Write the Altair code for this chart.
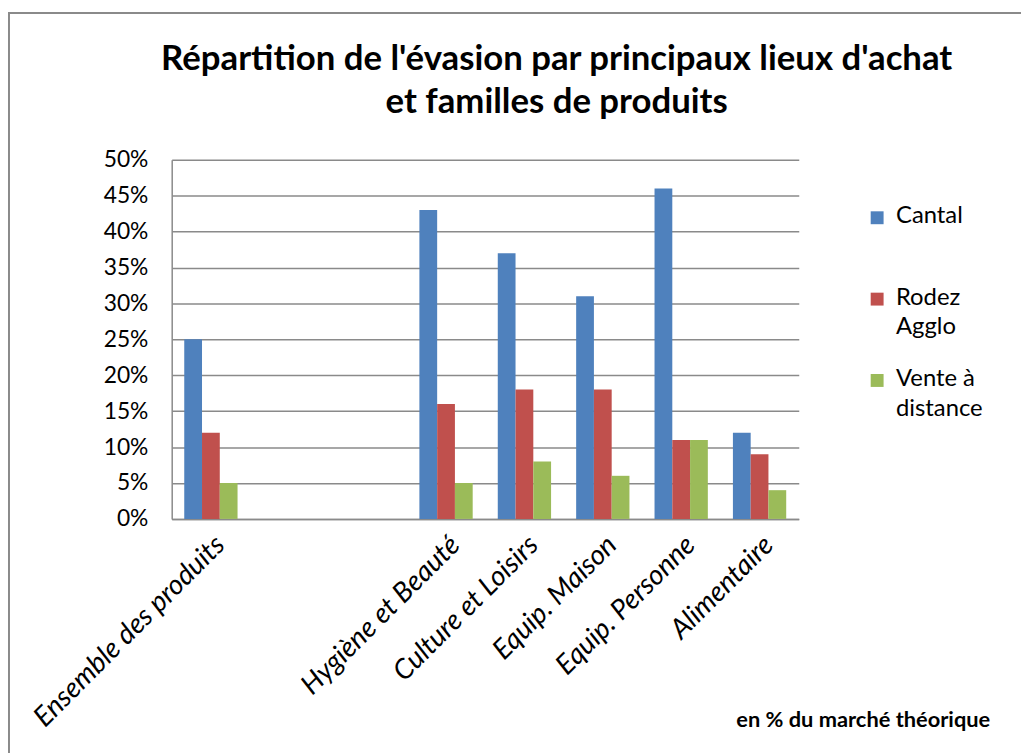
import altair as alt
import pandas as pd

categories = ["Ensemble des produits", " ", "  ", "Hygiène et Beauté", "Culture et Loisirs",
              "Equip. Maison", "Equip. Personne", "Alimentaire"]
series = ["Cantal", "Rodez Agglo", "Vente à distance"]
cantal = [25, None, None, 43, 37, 31, 46, 12]
rodez = [12, None, None, 16, 18, 18, 11, 9]
vente = [5, None, None, 5, 8, 6, 11, 4]
colors = ["#4F81BD", "#C0504D", "#9BBB59"]
y_ticks = [0, 5, 10, 15, 20, 25, 30, 35, 40, 45, 50]
title_lines = ["Répartition de l'évasion par principaux lieux d'achat", "et familles de produits"]
note = "en % du marché théorique"

rows = []
for s, vals in zip(series, [cantal, rodez, vente]):
    for c, v in zip(categories, vals):
        if v is not None:
            rows.append({"cat": c, "serie": s, "val": v})
df = pd.DataFrame(rows)

FONT = "Lato"
GRID = "#8a8a8a"

bars = alt.Chart(df).mark_bar().encode(
    x=alt.X("cat:N", sort=categories,
            scale=alt.Scale(domain=categories, paddingInner=0.32, paddingOuter=0.16),
            axis=alt.Axis(title=None, labelAngle=-45, labelFontStyle="italic", labelFontSize=28,
                          labelFont=FONT, labelColor="black", ticks=False, domainColor=GRID,
                          domainWidth=1.5, labelPadding=12, labelLimit=400)),
    xOffset=alt.XOffset("serie:N", sort=series, scale=alt.Scale(domain=series)),
    y=alt.Y("val:Q", scale=alt.Scale(domain=[0, 50]),
            axis=alt.Axis(title=None, values=y_ticks, labelExpr="datum.value + '%'",
                          labelFontSize=23, labelFont=FONT, labelColor="black", ticks=False,
                          grid=True, gridColor=GRID, gridWidth=1.5, domainColor=GRID,
                          domainWidth=1.5, labelPadding=24)),
    color=alt.Color("serie:N", sort=series, scale=alt.Scale(domain=series, range=colors),
                    legend=alt.Legend(title=None, orient="none", legendX=699, legendY=52,
                                      symbolType="M-1,-1.85H1V0.15H-1Z", symbolSize=169,
                                      symbolStrokeWidth=0, labelFont=FONT, labelFontSize=24,
                                      labelColor="black", labelOffset=7, labelBaseline="alphabetic",
                                      gridAlign="all", rowPadding=28, padding=0,
                                      labelExpr="datum.label == 'Rodez Agglo' ? ['Rodez', 'Agglo'] : datum.label == 'Vente à distance' ? ['Vente à', 'distance'] : datum.label")),
)

one = pd.DataFrame({"a": [0]})
frame_top = alt.Chart(one).mark_rule(color=GRID, strokeWidth=2).encode(
    x=alt.value(-165), x2=alt.value(860), y=alt.value(-148))
frame_left = alt.Chart(one).mark_rule(color=GRID, strokeWidth=2).encode(
    x=alt.value(-164), y=alt.value(-148), y2=alt.value(600))
title_text = alt.Chart(one).mark_text(text=title_lines, font=FONT, fontWeight="bold", fontSize=35,
                                      align="center", baseline="middle", lineHeight=43,
                                      color="black").encode(
    x=alt.value(388), y=alt.value(-101))
note_text = alt.Chart(one).mark_text(text=note, font=FONT, fontWeight="bold", fontSize=22,
                                     align="right", baseline="middle", color="black").encode(
    x=alt.value(825), y=alt.value(565))

chart = alt.layer(frame_top, frame_left, title_text, bars, note_text).properties(
    width=632, height=362,
    autosize=alt.AutoSizeParams(type="none"),
    padding={"left": 165, "top": 150, "right": 224, "bottom": 233},
).configure(style={"guide-label": {"lineHeight": 30}}).configure_view(stroke=None)

chart.save("out.html", embed_options={"renderer": "svg", "actions": False})
